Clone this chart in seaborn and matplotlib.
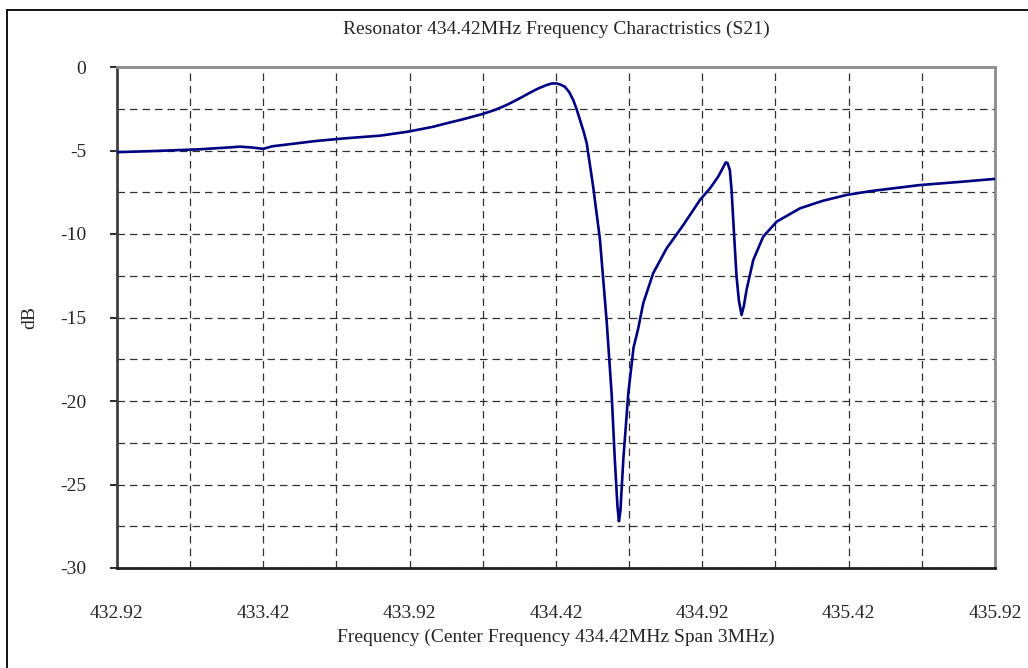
import numpy as np
import pandas as pd
import seaborn as sns
import matplotlib.pyplot as plt
from matplotlib.lines import Line2D
from matplotlib.ticker import MultipleLocator, FixedLocator

# S21 trace
freq = [432.92, 433.05, 433.20, 433.30, 433.34, 433.38, 433.42, 433.45, 433.60,
        433.70, 433.82, 433.915, 434.0, 434.046, 434.10, 434.166, 434.21, 434.251,
        434.29, 434.331, 434.36, 434.388, 434.405, 434.42, 434.435, 434.45,
        434.465, 434.479, 434.49, 434.502, 434.515, 434.525, 434.547, 434.57,
        434.593, 434.61, 434.621, 434.63, 434.635, 434.64, 434.65, 434.667,
        434.685, 434.701, 434.718, 434.752, 434.798, 434.855, 434.912, 434.946,
        434.974, 434.99, 435.0, 435.006, 435.014, 435.02, 435.025, 435.031,
        435.037, 435.045, 435.054, 435.062, 435.071, 435.094, 435.128, 435.174,
        435.254, 435.33, 435.413, 435.50, 435.663, 435.80, 435.92]
s21 = [-5.10, -5.03, -4.93, -4.82, -4.77, -4.82, -4.90, -4.75, -4.43,
       -4.27, -4.11, -3.87, -3.58, -3.37, -3.14, -2.83, -2.58, -2.28,
       -1.93, -1.54, -1.28, -1.08, -0.99, -0.98, -1.05, -1.18,
       -1.50, -1.98, -2.50, -3.17, -3.90, -4.57, -7.17, -10.30,
       -15.20, -19.54, -23.53, -26.30, -27.20, -26.60, -23.50, -19.54,
       -16.80, -15.65, -14.15, -12.35, -10.86, -9.46, -7.96, -7.27,
       -6.57, -6.05, -5.71, -5.75, -6.17, -7.40, -8.96, -10.80,
       -12.56, -14.00, -14.85, -14.30, -13.35, -11.56, -10.16, -9.26,
       -8.46, -8.02, -7.66, -7.42, -7.07, -6.88, -6.70]

xticks = [432.92, 433.42, 433.92, 434.42, 434.92, 435.42, 435.92]
yticks = [0, -5, -10, -15, -20, -25, -30]

title = "Resonator 434.42MHz Frequency Charactristics (S21)"
xlabel = "Frequency (Center Frequency 434.42MHz Span 3MHz)"
ylabel = "dB"

data = pd.DataFrame({"freq": freq, "s21": s21})

sns.set_style("white")
plt.rcParams["font.family"] = ["Liberation Serif", "DejaVu Serif"]

fig = plt.figure(figsize=(10.28, 6.68), dpi=100)
ax = fig.add_axes([117 / 1028, 1 - 568 / 668, 878 / 1028, 501 / 668])

sns.lineplot(data=data, x="freq", y="s21", ax=ax, color="#000080",
             linewidth=1.9, sort=False, zorder=5)

ax.set_xlim(432.92, 435.92)
ax.set_ylim(-30, 0)
ax.xaxis.set_major_locator(FixedLocator(xticks))
ax.xaxis.set_minor_locator(FixedLocator([432.92 + 0.25 * i for i in range(13)]))
ax.yaxis.set_major_locator(FixedLocator(yticks))
ax.yaxis.set_minor_locator(MultipleLocator(2.5))
ax.set_xticklabels([f"{t:.2f}" for t in xticks])
ax.set_yticklabels([str(t) for t in yticks])

ax.grid(True, which="both", color="#303030", linestyle=(0, (6, 4)), linewidth=0.9)
ax.tick_params(axis="x", which="both", length=0, pad=27, labelsize=14)
ax.tick_params(axis="y", which="major", direction="out", length=5, width=1.5,
               color="#303030", pad=17, labelsize=14, left=True)
ax.tick_params(axis="y", which="minor", length=0)

for side, col in [("left", "#404040"), ("bottom", "#202020"),
                  ("top", "#8c8c8c"), ("right", "#8c8c8c")]:
    ax.spines[side].set_color(col)
    ax.spines[side].set_linewidth(2)
    ax.spines[side].set_visible(True)

ax.set_title(title, fontsize=14, y=1 + 29 / 501, va="center")
ax.set_xlabel(xlabel, fontsize=14, va="center")
ax.xaxis.set_label_coords(0.5, -69 / 501)
ax.set_ylabel(ylabel, fontsize=14, va="center")
ax.yaxis.set_label_coords(-87 / 878, 0.5)

# outer chart-area border (only left and top edges visible in the crop)
fig.add_artist(Line2D([7 / 1028, 7 / 1028], [0, 1 - 10 / 668], color="black", linewidth=1.3))
fig.add_artist(Line2D([7 / 1028, 1], [1 - 10 / 668, 1 - 10 / 668], color="black", linewidth=1.3))

fig.savefig("out.png", dpi=100)
